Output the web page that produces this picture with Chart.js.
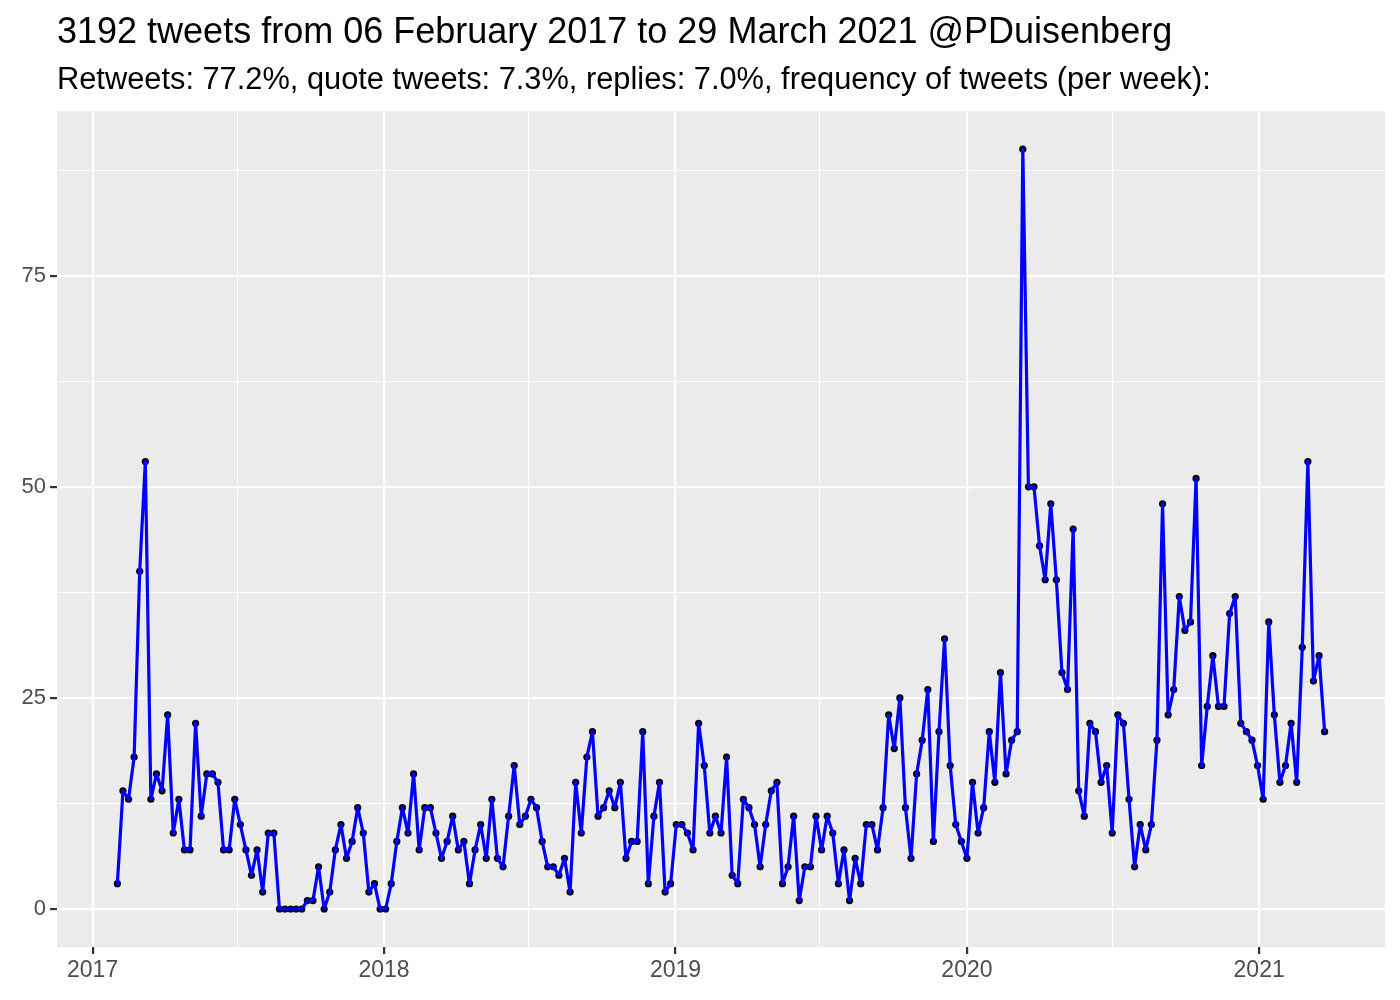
<!DOCTYPE html>
<html>
<head>
<meta charset="utf-8">
<script src="https://cdn.jsdelivr.net/npm/chart.js@4.4.1/dist/chart.umd.min.js"></script>
<style>
  body { margin: 0; background: #fff; }
  #wrap { width: 1400px; height: 1000px; }
</style>
</head>
<body>
<div id="wrap"><canvas id="tweetChart" width="1400" height="1000"></canvas></div>
<script>
const titleText = '3192 tweets from 06 February 2017 to 29 March 2021 @PDuisenberg';
const subtitleText = 'Retweets: 77.2%, quote tweets: 7.3%, replies: 7.0%, frequency of tweets (per week):';

// x is in days counted from 2017-01-01
const firstWeekDay = 31; // first weekly bin, 2017-02-01
const yearStarts = [0, 365, 730, 1095, 1461];
const yearLabels = ['2017', '2018', '2019', '2020', '2021'];
const midYears = [181, 546, 911, 1277];
const yTicks = [0, 12.5, 25, 37.5, 50, 62.5, 75, 87.5];

const tweetsPerWeek = [
  3, 14, 13, 18, 40, 53, 13, 16, 14, 23, 9, 13, 7, 7, 22, 11, 16, 16, 15, 7,
  7, 13, 10, 7, 4, 7, 2, 9, 9, 0, 0, 0, 0, 0, 1, 1, 5, 0, 2, 7,
  10, 6, 8, 12, 9, 2, 3, 0, 0, 3, 8, 12, 9, 16, 7, 12, 12, 9, 6, 8,
  11, 7, 8, 3, 7, 10, 6, 13, 6, 5, 11, 17, 10, 11, 13, 12, 8, 5, 5, 4,
  6, 2, 15, 9, 18, 21, 11, 12, 14, 12, 15, 6, 8, 8, 21, 3, 11, 15, 2, 3,
  10, 10, 9, 7, 22, 17, 9, 11, 9, 18, 4, 3, 13, 12, 10, 5, 10, 14, 15, 3,
  5, 11, 1, 5, 5, 11, 7, 11, 9, 3, 7, 1, 6, 3, 10, 10, 7, 12, 23, 19,
  25, 12, 6, 16, 20, 26, 8, 21, 32, 17, 10, 8, 6, 15, 9, 12, 21, 15, 28, 16,
  20, 21, 90, 50, 50, 43, 39, 48, 39, 28, 26, 45, 14, 11, 22, 21, 15, 17, 9, 23,
  22, 13, 5, 10, 7, 10, 20, 48, 23, 26, 37, 33, 34, 51, 17, 24, 30, 24, 24, 35,
  37, 22, 21, 20, 17, 13, 34, 23, 15, 17, 22, 15, 31, 53, 27, 30, 21
];

const points = tweetsPerWeek.map((v, i) => ({ x: firstWeekDay + 7 * i, y: v }));
const font = 'Liberation Sans, Arial, sans-serif';

const panelBg = {
  id: 'panelBg',
  beforeDraw(chart) {
    const { ctx, chartArea: a } = chart;
    ctx.save();
    ctx.fillStyle = '#EBEBEB';
    ctx.fillRect(a.left, a.top, a.right - a.left, a.bottom - a.top);
    ctx.restore();
  }
};

const isYearTick = ctx => ctx.tick && yearStarts.includes(ctx.tick.value);
const isMajorY = ctx => ctx.tick && ctx.tick.value % 25 === 0;

new Chart(document.getElementById('tweetChart'), {
  type: 'line',
  data: {
    datasets: [
      {
        data: points,
        borderColor: '#0000FF',
        borderWidth: 3.2,
        borderJoinStyle: 'round',
        borderCapStyle: 'round',
        pointRadius: 0,
        tension: 0,
        order: 1
      },
      {
        data: points,
        showLine: false,
        pointRadius: 3.6,
        pointBorderWidth: 0,
        pointBackgroundColor: '#000000',
        order: 2
      }
    ]
  },
  options: {
    responsive: false,
    animation: false,
    devicePixelRatio: 1,
    layout: { padding: { left: 0, right: 15, top: 0, bottom: 0 } },
    plugins: {
      legend: { display: false },
      tooltip: { enabled: false },
      title: {
        display: true,
        text: titleText,
        align: 'start',
        fullSize: false,
        color: '#000000',
        font: { family: font, size: 36, weight: 'normal' },
        padding: { top: 11, bottom: 2 }
      },
      subtitle: {
        display: true,
        text: subtitleText,
        align: 'start',
        fullSize: false,
        color: '#000000',
        font: { family: font, size: 30.8, weight: 'normal' },
        padding: { top: 6, bottom: 12 }
      }
    },
    scales: {
      x: {
        type: 'linear',
        min: -44.6,
        max: 1618.6,
        afterBuildTicks: s => {
          s.ticks = yearStarts.concat(midYears).sort((a, b) => a - b).map(v => ({ value: v }));
        },
        afterFit: s => { s.height = 53; },
        border: { display: false },
        grid: {
          color: '#FFFFFF',
          lineWidth: ctx => isYearTick(ctx) ? 2.2 : 1.1,
          tickColor: ctx => isYearTick(ctx) ? '#333333' : 'rgba(0,0,0,0)',
          tickLength: 7,
          tickWidth: 2.2
        },
        ticks: {
          autoSkip: false,
          maxRotation: 0,
          padding: 3,
          color: '#4D4D4D',
          font: { family: font, size: 23 },
          callback: v => {
            const i = yearStarts.indexOf(v);
            return i >= 0 ? yearLabels[i] : '';
          }
        }
      },
      y: {
        type: 'linear',
        min: -4.5,
        max: 94.5,
        afterBuildTicks: s => { s.ticks = yTicks.map(v => ({ value: v })); },
        afterFit: s => { s.width = 57; },
        border: { display: false },
        grid: {
          color: '#FFFFFF',
          lineWidth: ctx => isMajorY(ctx) ? 2.2 : 1.1,
          tickColor: ctx => isMajorY(ctx) ? '#333333' : 'rgba(0,0,0,0)',
          tickLength: 7,
          tickWidth: 2.2
        },
        ticks: {
          padding: 4,
          color: '#4D4D4D',
          font: { family: font, size: 22 },
          callback: v => v % 25 === 0 ? String(v) : ''
        }
      }
    }
  },
  plugins: [panelBg]
});
</script>
</body>
</html>
